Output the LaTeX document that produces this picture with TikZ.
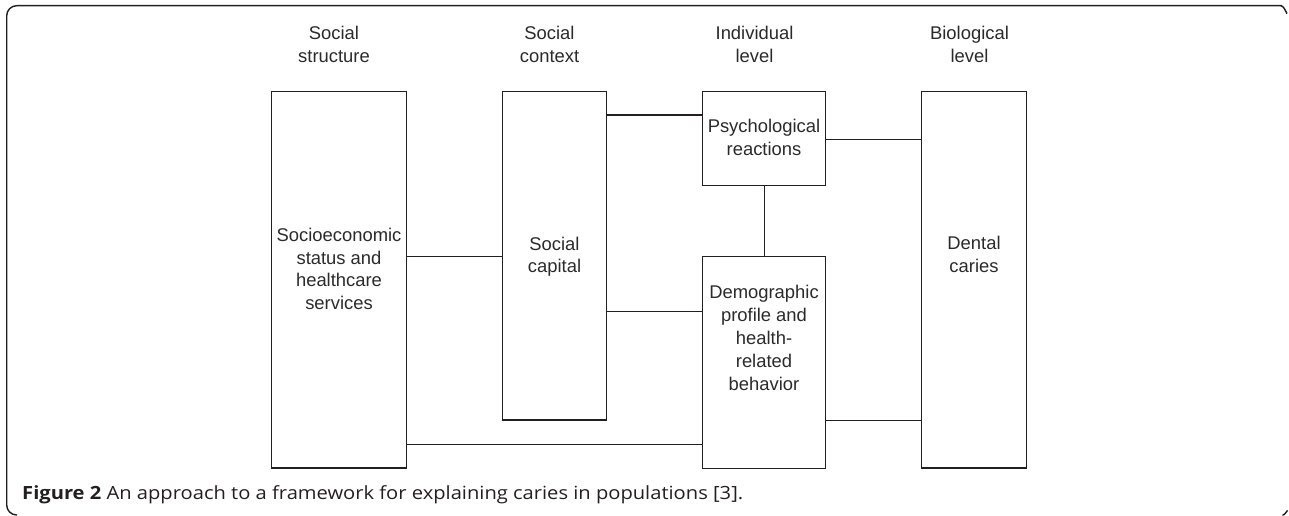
\documentclass[tikz,border=0pt]{standalone}
\usepackage{fontspec}
\setmainfont{Liberation Sans}
\newfontfamily\capfont{Open Sans}
\usepackage{graphicx}
\definecolor{ink}{HTML}{231F20}
\definecolor{txt}{HTML}{2A2A2A}
\begin{document}
\begin{tikzpicture}[x=1pt,y=-1pt,
  box/.style={draw=ink,line width=1.1pt,inner sep=0pt,outer sep=0pt,anchor=north west},
  lbl/.style={text=txt,align=center,inner sep=0pt,font=\fontsize{18.4}{22.8}\selectfont},
  link/.style={draw=ink,line width=1.1pt},
  frame/.style={draw=ink,line width=1.4pt}]
\useasboundingbox (0,0) rectangle (1289,516);
% frame
\draw[frame,rounded corners=10pt] (17,515) -| (6.7,5.7) -- (1282,5.7);
\draw[frame] (1281,5.7) to[out=0,in=270] (1287,12.5);
\draw[frame] (1282.5,515.3) to[out=0,in=90] (1287.5,511.5);
% boxes
\node[box,minimum width=135.4pt,minimum height=376.7pt] (b1) at (271.3,91.3) {};
\node[box,minimum width=104.4pt,minimum height=328.7pt] (b2) at (502.3,91.3) {};
\node[box,minimum width=123.4pt,minimum height=94pt] (b3) at (702.3,91.3) {};
\node[box,minimum width=123.4pt,minimum height=212pt] (b4) at (702.3,256.3) {};
\node[box,minimum width=105.4pt,minimum height=376.7pt] (b5) at (921.3,91.3) {};
% box texts
\node[lbl] (t1) at (339,269) {Socioeconomic\\status and\\healthcare\\services};
\node[lbl] (t2) at (554.5,256.7) {Social\\capital};
\node[lbl] (t3) at (764,137.7) {Psychological\\reactions};
\node[lbl] (t4) at (764,337.9) {Demographic\\profile and\\health-\\related\\behavior};
\node[lbl] (t5) at (974,254.7) {Dental\\caries};
% headers
\node[lbl] (h1) at (334,44.2) {Social\\structure};
\node[lbl] (h2) at (549.5,44.2) {Social\\context};
\node[lbl] (h3) at (754.5,44.2) {Individual\\level};
\node[lbl] (h4) at (969.5,44.2) {Biological\\level};
% connectors
\draw[link] (b1.east |- 0,256.3) -- (b2.west |- 0,256.3);
\draw[link] (b2.east |- 0,115) -- (b3.west |- 0,115);
\draw[link] (b3.east |- 0,139.3) -- (b5.west |- 0,139.3);
\draw[link] (b3.south -| 764.3,0) -- (b4.north -| 764.3,0);
\draw[link] (b2.east |- 0,311.3) -- (b4.west |- 0,311.3);
\draw[link] (b4.east |- 0,420.3) -- (b5.west |- 0,420.3);
\draw[link] (b1.east |- 0,444.3) -- (b4.west |- 0,444.3);
% caption
\node[anchor=base west,inner sep=0pt,text=ink] (cap) at (22,499) {\resizebox{721pt}{\height}{\capfont\fontsize{18.2}{20}\selectfont{\bfseries Figure 2} An approach to a framework for explaining caries in populations [3].}};
\end{tikzpicture}
\end{document}
